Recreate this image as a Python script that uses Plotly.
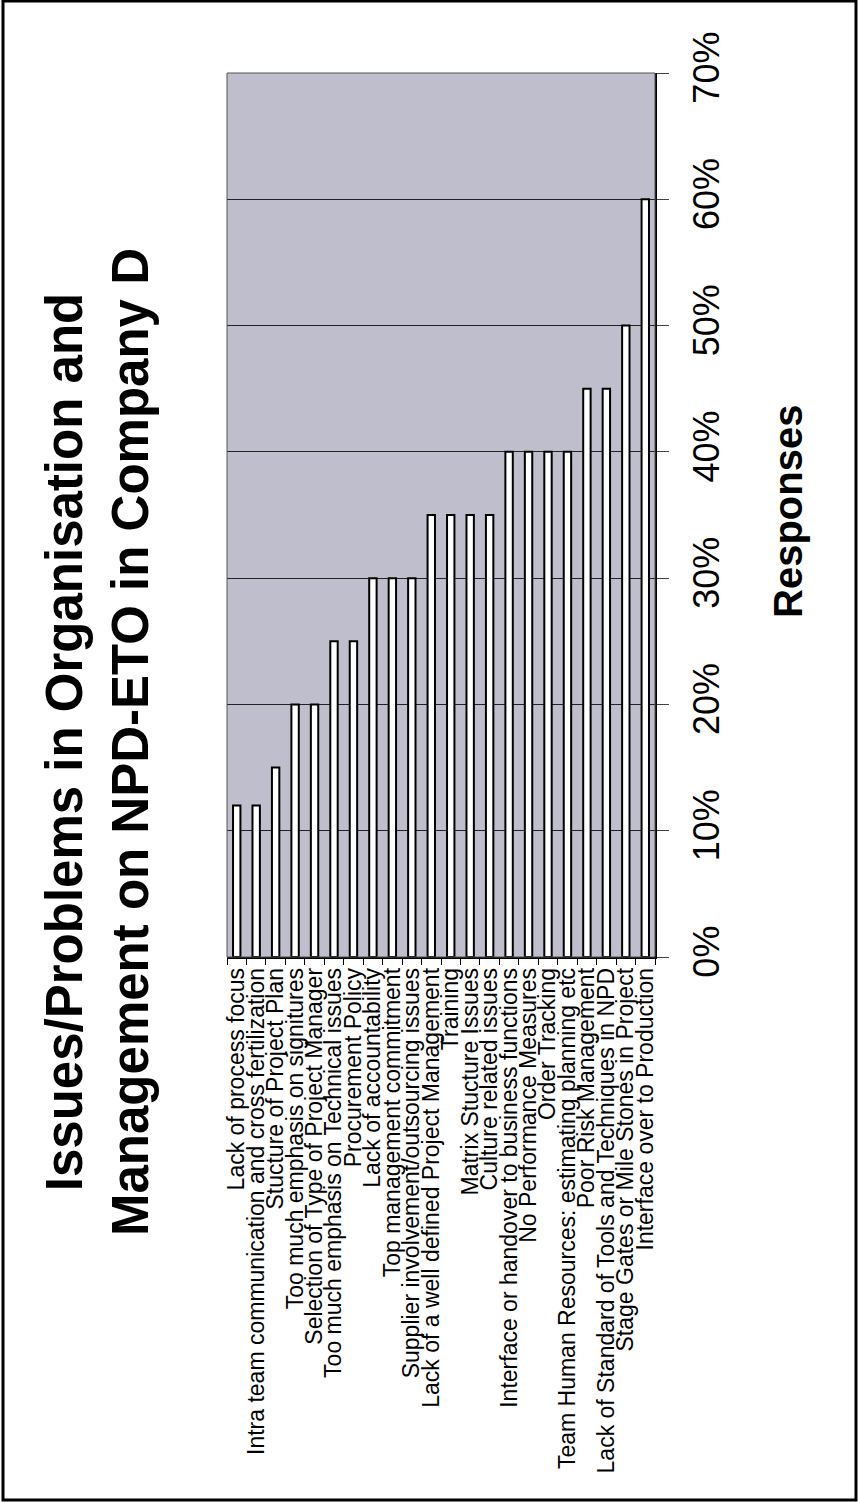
import plotly.graph_objects as go

categories = [
    "Lack of process focus",
    "Intra team communication and cross fertilization",
    "Stucture of Project Plan",
    "Too much emphasis on signitures",
    "Selection of Type of Project Manager",
    "Too much emphasis on Technical issues",
    "Procurement Policy",
    "Lack of accountability",
    "Top management commitment",
    "Supplier involvement/outsourcing issues",
    "Lack of a well defined Project Management",
    "Training",
    "Matrix Stucture Issues",
    "Culture related issues",
    "Interface or handover to business functions",
    "No Performance Measures",
    "Order Tracking",
    "Team Human Resources: estimating planning etc",
    "Poor Risk Management",
    "Lack of Standard of Tools and Techniques in NPD",
    "Stage Gates or Mile Stones in Project",
    "Interface over to Production",
]
responses = [0.12, 0.12, 0.15, 0.20, 0.20, 0.25, 0.25, 0.30, 0.30, 0.30, 0.35,
             0.35, 0.35, 0.35, 0.40, 0.40, 0.40, 0.40, 0.45, 0.45, 0.50, 0.60]
value_ticks = [0, 0.1, 0.2, 0.3, 0.4, 0.5, 0.6, 0.7]

title_lines = ["Issues/Problems in Organisation and", "Management on NPD-ETO in Company D"]
value_axis_title = "Responses"

W, H = 859, 1503
L, R, T, B = 227, 655, 73, 957
FONT = "Arial, Liberation Sans, sans-serif"

def px(p):
    return (p - L) / (R - L)

def py(q):
    return (B - q) / (B - T)

fig = go.Figure()
fig.add_trace(go.Bar(
    x=categories, y=responses,
    marker=dict(color="white", line=dict(color="black", width=2)),
    showlegend=False,
))

fig.update_layout(
    width=W, height=H,
    margin=dict(l=L, r=W - R, t=T, b=H - B, autoexpand=False),
    paper_bgcolor="white",
    plot_bgcolor="#BEBECD",
    bargap=0.62,
    font=dict(family=FONT, color="black"),
    xaxis=dict(
        type="category",
        tickmode="linear", tick0=0, dtick=1,
        tickangle=-90,
        tickfont=dict(size=23, family=FONT, color="black"),
        showline=True, linecolor="black", linewidth=1.5,
        ticks="outside", ticklen=6, tickcolor="black", tickson="boundaries",
        showgrid=False, automargin=False,
    ),
    yaxis=dict(
        range=[0, 0.7],
        tickvals=value_ticks,
        tickformat=".0%",
        side="right",
        tickangle=-90,
        ticklabelstandoff=7,
        tickfont=dict(size=36, family=FONT, color="black"),
        showline=True, linecolor="black", linewidth=1.5,
        ticks="outside", ticklen=12, tickcolor="#444",
        showgrid=True, gridcolor="#222", gridwidth=1,
        zeroline=False, automargin=False,
    ),
    shapes=[
        dict(type="rect", xref="paper", yref="paper", x0=0, x1=1, y0=0, y1=1,
             line=dict(color="#555", width=1), layer="above"),
        dict(type="rect", xref="paper", yref="paper",
             x0=px(3), x1=px(856), y0=py(1500), y1=py(1),
             line=dict(color="black", width=3)),
    ],
    annotations=[
        dict(text="<br>".join(title_lines), xref="paper", yref="paper",
             x=px(97), y=py(742), xanchor="center", yanchor="middle",
             textangle=-90, showarrow=False,
             font=dict(size=51, family=FONT, color="black", weight="bold")),
        dict(text=value_axis_title, xref="paper", yref="paper",
             x=px(788), y=py(512), xanchor="center", yanchor="middle",
             textangle=-90, showarrow=False,
             font=dict(size=40, family=FONT, color="black", weight="bold")),
    ],
)

fig.write_html("out.html")
